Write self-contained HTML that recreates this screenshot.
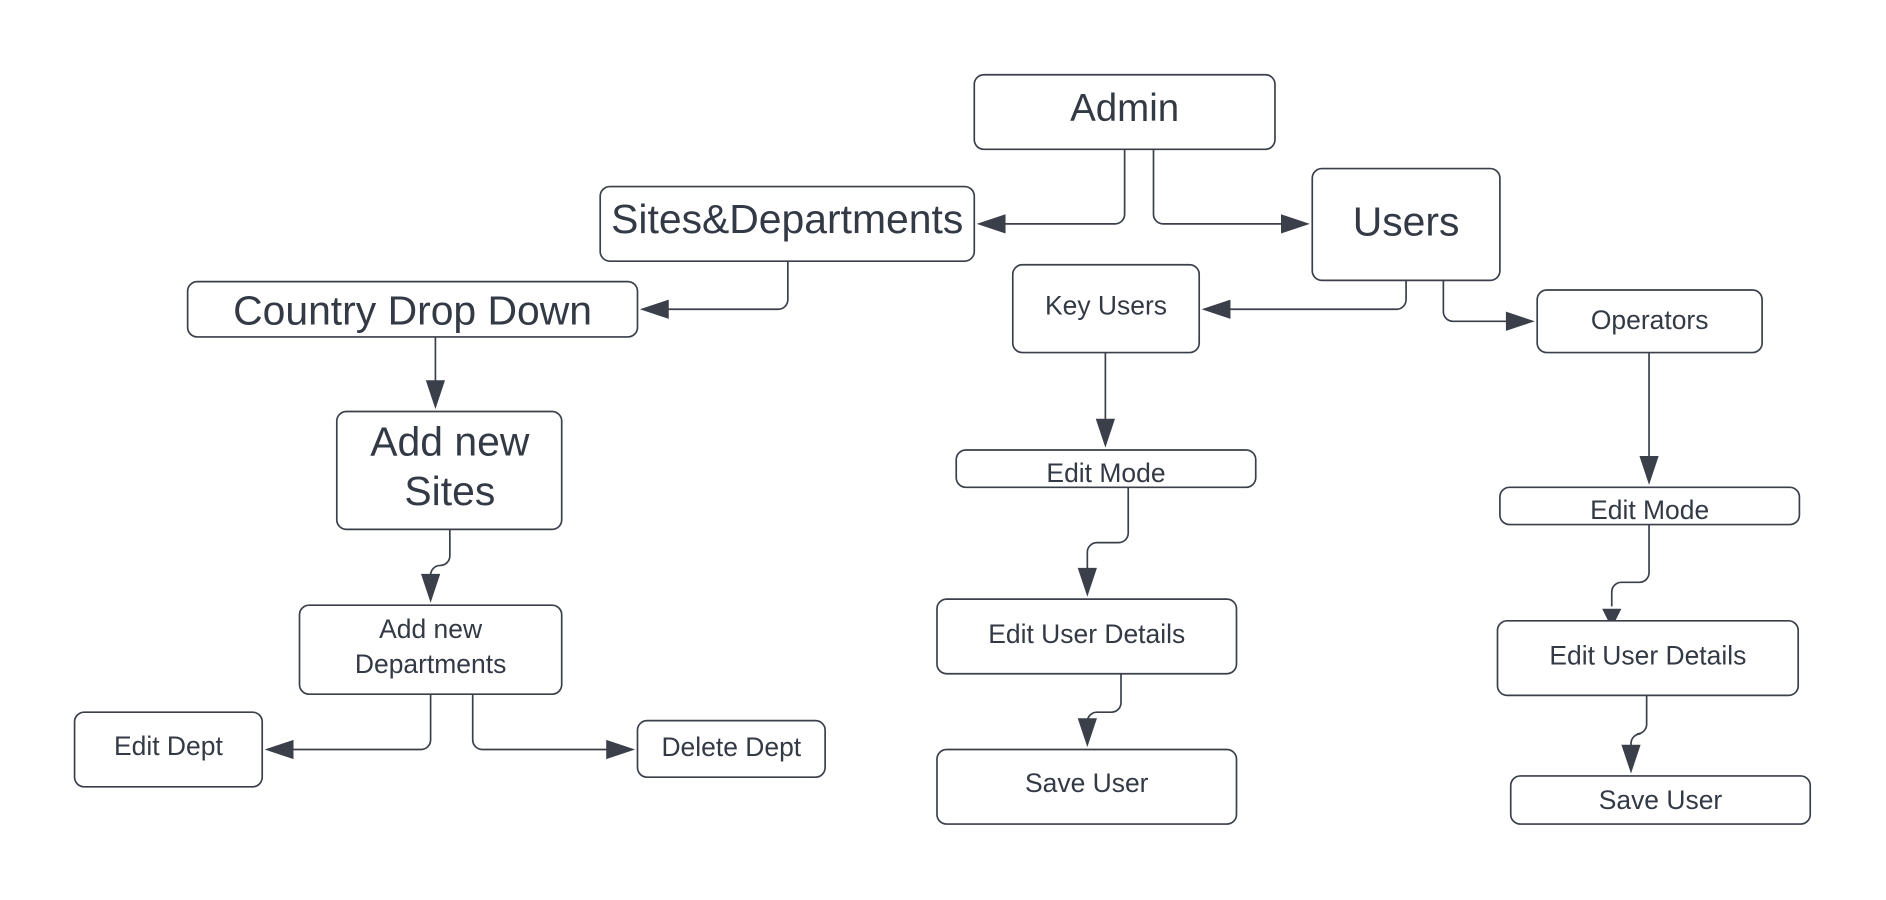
<!DOCTYPE html>
<html><head><meta charset="utf-8"><style>
html,body{margin:0;padding:0;background:#fff;}
svg{display:block}
text{font-family:"Liberation Sans",Arial,sans-serif;fill:#333a45;text-anchor:middle;dominant-baseline:central}
.b{fill:#fff;stroke:#3a3f4a;stroke-width:1.4}
.c{fill:none;stroke:#3a3f4a;stroke-width:1.4}
.a{fill:#3a3f4a}
</style></head><body>
<svg width="1886" height="900" viewBox="0 0 1568 748" xmlns="http://www.w3.org/2000/svg">
<rect width="1568" height="748" fill="#fff"/>
<!-- connectors -->
<path class="c" d="M935 124 V178 a8 8 0 0 1 -8 8 H832"/><polygon class="a" points="812,186 836,178 836,194"/>
<path class="c" d="M959 124 V178 a8 8 0 0 0 8 8 H1070"/><polygon class="a" points="1089,186 1065,178 1065,194"/>
<path class="c" d="M655 217 V249 a8 8 0 0 1 -8 8 H552"/><polygon class="a" points="532,257 556,249 556,265"/>
<path class="c" d="M1169 233 V249 a8 8 0 0 1 -8 8 H1019"/><polygon class="a" points="999,257 1023,249 1023,265"/>
<path class="c" d="M1200 233 V259 a8 8 0 0 0 8 8 H1256"/><polygon class="a" points="1276,267 1252,259 1252,275"/>
<path class="c" d="M362 280 V320"/><polygon class="a" points="362,340 354,316 370,316"/>
<path class="c" d="M374 440 V462 a8 8 0 0 1 -8 8 H366 a8 8 0 0 0 -8 8 V481"/><polygon class="a" points="358,501 350,477 366,477"/>
<path class="c" d="M358 577 V615 a8 8 0 0 1 -8 8 H240"/><polygon class="a" points="220,623 244,615 244,631"/>
<path class="c" d="M393 577 V615 a8 8 0 0 0 8 8 H508"/><polygon class="a" points="528,623 504,615 504,631"/>
<path class="c" d="M919 293 V352"/><polygon class="a" points="919,372 911,348 927,348"/>
<path class="c" d="M938 405 V443 a8 8 0 0 1 -8 8 H912 a8 8 0 0 0 -8 8 V476"/><polygon class="a" points="904,496 896,472 912,472"/>
<path class="c" d="M932 560 V584 a8 8 0 0 1 -8 8 H912 a8 8 0 0 0 -8 8 V601"/><polygon class="a" points="904,621 896,597 912,597"/>
<path class="c" d="M1371 293 V383"/><polygon class="a" points="1371,403 1363,379 1379,379"/>
<path class="c" d="M1371 436 V476 a8 8 0 0 1 -8 8 H1348 a8 8 0 0 0 -8 8 V504"/><polygon class="a" points="1340,522 1332,506 1348,506"/>
<path class="c" d="M1369 578 V602 a8 8 0 0 1 -8 8 H1364 a8 8 0 0 0 -8 8 V623"/><polygon class="a" points="1356,643 1348,619 1364,619"/>
<!-- boxes -->
<rect class="b" x="810" y="62" width="250" height="62" rx="8"/><text x="935" y="90" font-size="32">Admin</text>
<rect class="b" x="499" y="155" width="311" height="62" rx="8"/><text x="654.5" y="182" font-size="34">Sites&amp;Departments</text>
<rect class="b" x="1091" y="140" width="156" height="93" rx="8"/><text x="1169" y="184" font-size="34">Users</text>
<rect class="b" x="156" y="234" width="374" height="46" rx="8"/><text x="343" y="258" font-size="34">Country Drop Down</text>
<rect class="b" x="842" y="220" width="155" height="73" rx="8"/><text x="919.5" y="254" font-size="22">Key Users</text>
<rect class="b" x="1278" y="241" width="187" height="52" rx="8"/><text x="1371.5" y="266" font-size="22">Operators</text>
<rect class="b" x="280" y="342" width="187" height="98" rx="8"/><text x="374" y="367" font-size="34">Add new</text><text x="374" y="408" font-size="34">Sites</text>
<rect class="b" x="795" y="374" width="249" height="31" rx="8"/><text x="919.5" y="393" font-size="22">Edit Mode</text>
<rect class="b" x="1247" y="405" width="249" height="31" rx="8"/><text x="1371.5" y="424" font-size="22">Edit Mode</text>
<rect class="b" x="249" y="503" width="218" height="74" rx="8"/><text x="358" y="523" font-size="22">Add new</text><text x="358" y="552" font-size="22">Departments</text>
<rect class="b" x="779" y="498" width="249" height="62" rx="8"/><text x="903.5" y="527" font-size="22">Edit User Details</text>
<rect class="b" x="1245" y="516" width="250" height="62" rx="8"/><text x="1370" y="545" font-size="22">Edit User Details</text>
<rect class="b" x="62" y="592" width="156" height="62" rx="8"/><text x="140" y="620" font-size="22">Edit Dept</text>
<rect class="b" x="530" y="599" width="156" height="47" rx="8"/><text x="608" y="621" font-size="22">Delete Dept</text>
<rect class="b" x="779" y="623" width="249" height="62" rx="8"/><text x="903.5" y="651" font-size="22">Save User</text>
<rect class="b" x="1256" y="645" width="249" height="40" rx="8"/><text x="1380.5" y="665" font-size="22">Save User</text>
</svg>
</body></html>
